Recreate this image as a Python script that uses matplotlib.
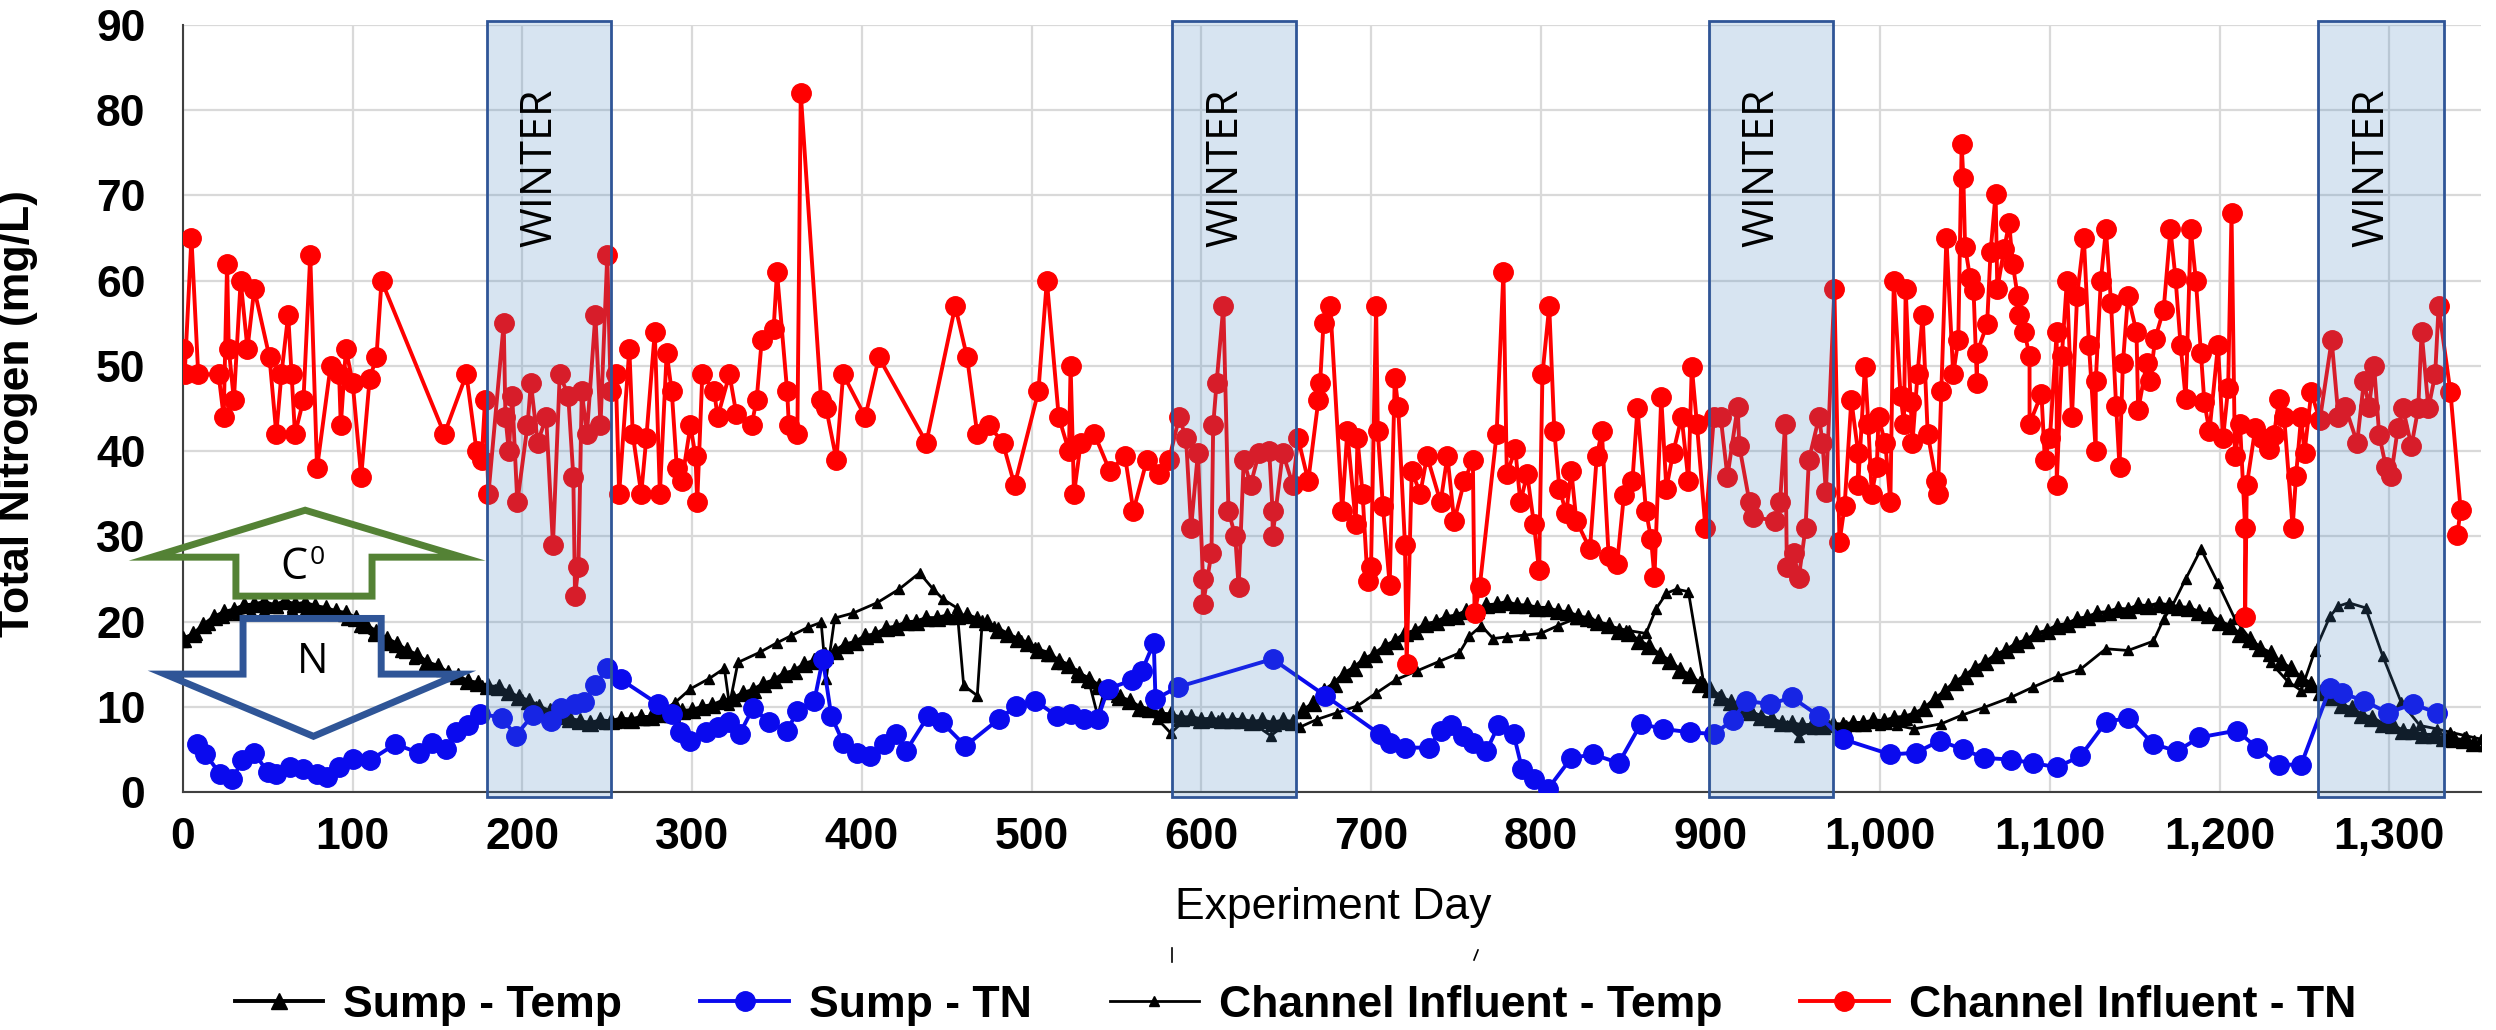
import matplotlib
matplotlib.use("Agg")
import matplotlib.pyplot as plt
from matplotlib.patches import Rectangle, Polygon
from matplotlib.lines import Line2D
from matplotlib.ticker import FuncFormatter, MultipleLocator

# ---- data ----
sump_temp_day = [0, 6, 12, 18, 24, 30, 36, 42, 48, 54, 60, 66, 72, 78, 84, 90, 96, 102, 108, 114,
                 120, 126, 132, 138, 144, 150, 156, 162, 168, 174, 180, 186, 192, 198, 204, 210, 216,
                 222, 228, 234, 240, 246, 252, 258, 264, 270, 276, 282, 288, 294, 300, 306, 312, 318,
                 324, 330, 336, 342, 348, 354, 360, 366, 372, 378, 384, 390, 396, 402, 408, 414, 420,
                 426, 432, 438, 444, 450, 456, 462, 468, 474, 480, 486, 492, 498, 504, 510, 516, 522,
                 528, 534, 540, 546, 552, 558, 564, 570, 576, 582, 588, 594, 600, 606, 612, 618, 624,
                 630, 636, 642, 648, 654, 660, 666, 672, 678, 684, 690, 696, 702, 708, 714, 720, 726,
                 732, 738, 744, 750, 756, 762, 768, 774, 780, 786, 792, 798, 804, 810, 816, 822, 828,
                 834, 840, 846, 852, 858, 864, 870, 876, 882, 888, 894, 900, 906, 912, 918, 924, 930,
                 936, 942, 948, 954, 960, 966, 972, 978, 984, 990, 996, 1002, 1008, 1014, 1020, 1026,
                 1032, 1038, 1044, 1050, 1056, 1062, 1068, 1074, 1080, 1086, 1092, 1098, 1104, 1110,
                 1116, 1122, 1128, 1134, 1140, 1146, 1152, 1158, 1164, 1170, 1176, 1182, 1188, 1194,
                 1200, 1206, 1212, 1218, 1224, 1230, 1236, 1242, 1248, 1254, 1260, 1266, 1272, 1278,
                 1284, 1290, 1296, 1302, 1308, 1314, 1320, 1326, 1332, 1338, 1344, 1350, 1357]
sump_temp = [18, 18.5, 19.6, 20.5, 21.1, 21.4, 21.9, 22, 22.3, 21.9, 22.4, 22, 22.2, 21.8, 21.6,
             21.2, 21, 20.4, 19.6, 18.8, 18, 17.4, 16.6, 16.1, 15.2, 14.8, 14, 13.6, 13, 12.8,
             12.4, 12.3, 11.7, 11.1, 10.7, 10, 9.5, 9, 8.6, 8.3, 8.1, 8.4, 8.3, 8.6, 8.5, 8.8,
             8.8, 9.1, 9.1, 9.5, 9.6, 10, 10.2, 10.7, 11, 11.6, 12, 12.7, 13.1, 13.9, 14.2, 15,
             15.4, 16.1, 16.5, 17.3, 17.6, 18.3, 18.5, 19.2, 19.4, 19.9, 20, 20.4, 20.4, 20.7,
             20.6, 20.8, 20.3, 19.9, 19, 18.5, 17.9, 17.5, 16.7, 16.3, 15.4, 14.9, 13.9, 13.3,
             12.4, 11.9, 11.1, 10.7, 9.9, 9.7, 9.2, 9.1, 8.7, 8.8, 8.5, 8.6, 8.4, 8.4, 8.5, 8.2,
             8.4, 8.1, 8.4, 8.2, 9.6, 10.4, 11.9, 12.7, 13.9, 14.6, 15.6, 16.2, 17.1, 17.7,
             18.6, 18.9, 19.7, 19.9, 20.5, 20.7, 21.2, 21.4, 21.9, 22, 22.3, 21.9, 21.9, 21.6,
             21.6, 21.2, 21.1, 20.6, 20.4, 19.9, 19.6, 18.9, 18.6, 17.7, 17.1, 16.1, 15.4, 14.3,
             13.7, 12.7, 12.1, 11.1, 10.6, 9.7, 9.4, 8.8, 8.6, 8.1, 8.1, 7.8, 7.9, 7.7, 8, 7.9,
             8.1, 8.1, 8.4, 8.3, 8.7, 8.8, 9.2, 9.8, 10.9, 11.8, 12.9, 13.6, 14.6, 15.2, 16.1,
             16.6, 17.4, 17.8, 18.6, 18.9, 19.5, 19.7, 20.3, 20.5, 21, 21.1, 21.5, 21.4, 21.9,
             21.8, 22.1, 21.9, 21.7, 21.6, 21.1, 20.8, 20, 19.5, 18.5, 17.9, 16.9, 16.3, 15.2,
             14.5, 13.4, 12.7, 11.7, 11.1, 10.2, 9.8, 9, 8.7, 8, 7.8, 7.2, 7.1, 6.7, 6.7, 6.3,
             6.2, 6.1, 5.8, 5.7]

chan_temp_day = [0, 8, 16, 24, 32, 40, 48, 56, 64, 72, 80, 88, 96, 104, 112, 120, 128, 136, 144, 152,
                 160, 168, 176, 184, 192, 200, 208, 216, 224, 232, 240, 248, 256, 264, 272, 280, 290,
                 299, 310, 319, 322, 327, 340, 350, 358, 368, 376, 379, 384, 395, 409, 422, 434, 442,
                 448, 456, 460, 468, 471, 478, 486, 494, 502, 510, 518, 526, 534, 539, 543, 550, 558,
                 566, 574, 582, 590, 600, 610, 620, 630, 641, 650, 658, 668, 680, 692, 703, 715, 727,
                 740, 752, 758, 765, 772, 780, 790, 800, 810, 820, 830, 840, 850, 862, 868, 874, 880,
                 887, 896, 905, 915, 925, 935, 945, 952, 960, 970, 980, 990, 1000, 1010, 1020, 1036,
                 1048, 1061, 1077, 1090, 1105, 1118, 1133, 1146, 1161, 1167, 1172, 1180, 1189, 1199,
                 1209, 1220, 1230, 1240, 1248, 1256, 1265, 1270, 1276, 1286, 1296, 1307, 1318, 1328,
                 1336, 1345, 1354]
chan_temp = [17.6, 18.4, 19.6, 20.4, 20.8, 21.2, 21.4, 21.6, 21.5, 21.4, 21.2, 20.8, 20.2, 19.4,
             18.3, 17.2, 16.4, 15.6, 14.9, 14.2, 13.6, 13, 12.5, 12.1, 11.6, 10.9, 10.1, 9.3, 8.6,
             8.1, 7.9, 8, 8.1, 8.2, 8.5, 9.2, 10.5, 12.1, 13.3, 14.5, 10.2, 15.2, 16.4, 17.5, 18.3,
             19.3, 19.9, 13.3, 20.4, 21, 22.2, 23.8, 25.7, 23.8, 22.6, 21.6, 12.5, 11.3, 20.2, 19.5,
             18.6, 17.8, 17, 16, 15, 14, 12.8, 8.9, 12, 11.2, 10.4, 9.5, 8.6, 6.9, 8.4, 8.6, 8.4,
             8.2, 8.1, 6.6, 8, 7.6, 8.5, 9.3, 10.1, 11.6, 13.2, 14.2, 15.3, 16.3, 18.3, 19.5, 18,
             18.2, 18.4, 18.6, 19.5, 20.3, 20, 19.5, 19, 18.6, 21.5, 23.3, 23.8, 23.5, 12.8, 11.3,
             10.2, 9.3, 8.6, 7.8, 6.5, 7.4, 7.8, 7.9, 7.8, 7.9, 7.8, 7.4, 8, 9, 9.9, 11.1, 12.3,
             13.6, 14.4, 16.8, 16.6, 17.7, 20.3, 21.8, 25, 28.5, 24.5, 20.3, 17.4, 15.2, 13, 11.9,
             16.5, 20.6, 21.8, 22.2, 21.6, 16, 10.5, 7.8, 7.4, 7, 6.6, 6.2]

sump_tn_day = [8, 13, 22, 29, 35, 42, 50, 55, 63, 71, 79, 85, 92, 100, 110, 125, 139, 147, 155, 161,
               168, 175, 188, 196, 206, 217, 223, 231, 236, 243, 250, 258, 280, 288, 293, 299, 308,
               315, 322, 328, 336, 345, 356, 362, 372, 377, 382, 389, 397, 405, 413, 420, 426, 439,
               447, 461, 481, 491, 502, 515, 523, 531, 539, 545, 559, 565, 572, 573, 586, 642, 673,
               705, 711, 720, 734, 741, 747, 754, 760, 768, 775, 784, 789, 796, 804, 818, 831, 846,
               859, 872, 888, 902, 913, 921, 935, 948, 964, 978, 1006, 1021, 1035, 1049, 1061, 1077,
               1090, 1104, 1118, 1133, 1146, 1161, 1175, 1188, 1210, 1222, 1235, 1248, 1265, 1272,
               1285, 1299, 1314, 1328]
sump_tn = [5.6, 4.5, 2.1, 1.5, 3.7, 4.6, 2.3, 2.1, 2.9, 2.7, 2.1, 1.7, 2.9, 3.9, 3.7, 5.6, 4.6, 5.8,
           5, 7, 7.8, 9.2, 8.7, 6.6, 9, 8.3, 9.9, 10.3, 10.5, 12.5, 14.6, 13.2, 10.3, 9.1, 7, 6, 7,
           7.6, 8.2, 6.8, 9.9, 8.2, 7.2, 9.5, 10.7, 15.6, 8.9, 5.8, 4.6, 4.2, 5.6, 6.8, 4.8, 8.9,
           8.2, 5.4, 8.6, 10.1, 10.7, 8.9, 9.2, 8.6, 8.6, 12.1, 13.1, 14.2, 17.5, 10.9, 12.3, 15.6,
           11.3, 6.8, 5.8, 5.2, 5.2, 7.2, 7.8, 6.6, 5.8, 4.8, 7.8, 6.8, 2.7, 1.5, 0.3, 4, 4.4, 3.4,
           8, 7.4, 7, 6.8, 8.4, 10.7, 10.3, 11.1, 8.9, 6.2, 4.4, 4.6, 6, 5, 4, 3.8, 3.4, 2.9, 4.2,
           8.2, 8.7, 5.6, 4.8, 6.4, 7.2, 5.2, 3.2, 3.2, 12.2, 11.6, 10.7, 9.3, 10.3, 9.3]

chan_tn_day = [0, 1, 5, 9, 21, 24, 26, 27, 30, 34, 38, 42, 51, 55, 58, 62, 64, 66, 71, 75, 79, 87, 92,
               93, 96, 100, 105, 110, 114, 117, 154, 167, 173, 176, 178, 180, 189, 190, 192, 194, 197,
               203, 205, 209, 214, 218, 222, 227, 230, 231, 233, 235, 238, 243, 246, 250, 252, 255,
               257, 263, 265, 270, 273, 278, 281, 285, 288, 291, 294, 299, 302, 303, 306, 313, 315,
               322, 326, 335, 338, 341, 348, 350, 356, 357, 362, 364, 376, 379, 385, 389, 402, 410,
               438, 455, 462, 468, 475, 483, 490, 504, 509, 516, 522, 523, 525, 529, 537, 546, 555,
               560, 568, 575, 581, 587, 591, 594, 598, 601, 601, 606, 607, 609, 613, 616, 620, 622,
               625, 629, 634, 640, 642, 642, 648, 654, 657, 663, 669, 670, 672, 676, 683, 686, 691,
               692, 695, 698, 700, 703, 704, 707, 711, 714, 716, 720, 721, 724, 729, 733, 741, 745,
               749, 755, 760, 761, 764, 774, 778, 780, 785, 788, 792, 796, 799, 801, 805, 808, 811,
               815, 818, 821, 829, 833, 836, 840, 845, 849, 854, 857, 862, 865, 867, 871, 874, 878,
               883, 887, 889, 892, 897, 902, 906, 910, 916, 917, 923, 925, 938, 941, 944, 945, 949,
               952, 956, 958, 964, 966, 968, 973, 976, 979, 983, 987, 987, 991, 993, 995, 998, 999,
               1003, 1006, 1008, 1012, 1014, 1015, 1018, 1019, 1022, 1025, 1028, 1033, 1034, 1036,
               1039, 1043, 1046, 1048, 1049, 1050, 1053, 1055, 1057, 1057, 1063, 1065, 1068, 1069,
               1073, 1076, 1078, 1081, 1082, 1085, 1088, 1088, 1095, 1097, 1100, 1104, 1104, 1107,
               1110, 1113, 1116, 1120, 1123, 1127, 1127, 1130, 1133, 1136, 1139, 1141, 1143, 1146,
               1151, 1152, 1157, 1159, 1162, 1167, 1171, 1174, 1177, 1180, 1183, 1186, 1189, 1191,
               1194, 1199, 1202, 1205, 1207, 1209, 1212, 1215, 1215, 1216, 1221, 1225, 1229, 1232,
               1235, 1238, 1243, 1245, 1248, 1250, 1254, 1259, 1266, 1270, 1274, 1281, 1285, 1288,
               1291, 1294, 1298, 1301, 1305, 1308, 1313, 1317, 1319, 1323, 1327, 1329, 1336, 1342,
               1340]
chan_tn = [52, 49, 65, 49, 49, 44, 62, 52, 46, 60, 52, 59, 51, 42, 49, 56, 49, 42, 46, 63, 38, 50, 49,
           43, 52, 48, 37, 48.5, 51, 60, 42, 49, 40, 39, 46, 35, 55, 44, 40, 46.5, 34, 43, 48, 41, 44,
           29, 49, 46.5, 37, 23, 26.4, 47, 42, 56, 43, 63, 47, 49, 35, 52, 42, 35, 41.5, 54, 35, 51.5,
           47, 38, 36.5, 43, 39.4, 34, 49, 47, 44, 49, 44.4, 43, 46, 53, 54.3, 61, 47, 43, 42, 82, 46,
           45, 39, 49, 44, 51, 41, 57, 51, 42, 43, 41, 36, 47, 60, 44, 40, 50, 35, 41, 42, 37.7, 39.4,
           33, 39, 37.3, 39, 44, 41.5, 31, 39.8, 25, 22, 28, 43, 48, 57, 33, 30, 24, 39, 36, 39.8, 40,
           33, 30, 39.8, 36, 41.5, 36.5, 46, 48, 55, 57, 33, 42.3, 31.5, 41.5, 35, 24.7, 26.4, 57,
           42.3, 33.5, 24.3, 48.6, 45.2, 29, 15, 37.7, 35, 39.4, 34, 39.4, 31.8, 36.5, 39, 21, 24, 42,
           61, 37.3, 40.2, 34, 37.3, 31.4, 26, 49, 57, 42.3, 35.6, 32.7, 37.7, 31.8, 28.5, 39.4, 42.3,
           27.7, 26.8, 34.8, 36.5, 45, 33, 29.7, 25.2, 46.3, 35.6, 39.8, 44, 36.5, 49.9, 43.2, 31, 44,
           44, 37, 45.2, 40.6, 34, 32.3, 31.8, 34, 43.2, 26.4, 28, 25.1, 31, 39, 44, 41, 35.2, 59,
           29.3, 33.5, 46, 39.8, 36, 49.9, 43.2, 35, 38.1, 44, 40.9, 34, 60, 46.5, 43.2, 59, 45.7, 41,
           49, 56, 42, 36.5, 35, 47, 65, 49, 53, 76, 72, 64, 60.3, 58.9, 48, 51.5, 54.9, 63.3, 70.2,
           59, 63.7, 66.8, 62, 58.2, 56, 54, 51.1, 43.2, 46.7, 39, 41.5, 54, 36, 51.1, 60, 44, 58.2,
           65, 52.4, 40, 48.2, 60, 66, 57.4, 45.3, 38.1, 50.3, 58.2, 54, 44.8, 50.3, 48.2, 53.2, 56.6,
           66, 60.3, 52.4, 46.1, 66, 60, 51.5, 45.7, 42.3, 52.4, 41.5, 47.4, 67.9, 39.4, 43.2, 31,
           20.5, 36, 42.7, 41.5, 40.2, 41.9, 46.1, 44, 31, 37.1, 44, 39.8, 46.9, 43.6, 53, 44, 45.2,
           41, 48.2, 45.2, 50, 41.9, 38.1, 37.1, 42.7, 45, 40.6, 45, 54, 45, 49, 57, 46.9, 33.1, 30.2]

winter_start = [179, 583, 899, 1258]
winter_end = [252, 656, 972, 1332]

plt.rcParams['font.family'] = ['Liberation Sans', 'DejaVu Sans']

fig = plt.figure(figsize=(24.96, 10.30), dpi=100)
ax = fig.add_axes([0.0733, 0.2311, 0.9207, 0.7447])

# series
l1, = ax.plot(sump_temp_day, sump_temp, color='black', lw=2.8, marker='^', ms=11, zorder=3)
l3, = ax.plot(chan_temp_day, chan_temp, color='black', lw=2, marker='^', ms=7, zorder=3)
l2, = ax.plot(sump_tn_day, sump_tn, color='#0a0aee', lw=2.8, marker='o', ms=14, zorder=3.2)
l4, = ax.plot(chan_tn_day, chan_tn, color='#ff0000', lw=2.8, marker='o', ms=14, zorder=3.4)

# winter boxes
for s, e in zip(winter_start, winter_end):
    ax.add_patch(Rectangle((s, -0.6), e - s, 91.1, facecolor='#4988c3', alpha=0.22,
                           edgecolor='none', zorder=4, clip_on=False))
    ax.add_patch(Rectangle((s, -0.6), e - s, 91.1, fill=False, edgecolor='#2f5597',
                           lw=2, zorder=4.5, clip_on=False))
    ax.text((s + e) / 2 - 5, 73.3, 'WINTER', rotation=90, ha='center', va='center',
            fontsize=31, family='Open Sans', zorder=5)

# C0 / N block arrows
up = [(72, 33.06), (164.4, 27.55), (111.4, 27.55), (111.4, 22.98), (31.2, 22.98),
      (31.2, 27.55), (-18.3, 27.55)]
down = [(35.4, 20.36), (116.8, 20.36), (116.8, 13.83), (162.8, 13.83), (76.9, 6.53),
        (-10.6, 13.83), (35.4, 13.83)]
ax.add_patch(Polygon(up, closed=True, fill=False, edgecolor='#548235', lw=5,
                     joinstyle='miter', zorder=6, clip_on=False))
ax.add_patch(Polygon(down, closed=True, fill=False, edgecolor='#2f5597', lw=5,
                     joinstyle='miter', zorder=6, clip_on=False))
ax.text(65.5, 26.3, 'C', ha='center', va='center', fontsize=31, family='Open Sans', zorder=7)
ax.text(79.3, 27.5, '0', ha='center', va='center', fontsize=19, family='Open Sans', zorder=7)
ax.text(76.5, 15.2, 'N', ha='center', va='center', fontsize=30, family='Open Sans', zorder=7)

# axes styling
ax.set_xlim(0, 1354)
ax.set_ylim(0, 90)
ax.xaxis.set_major_locator(MultipleLocator(100))
ax.yaxis.set_major_locator(MultipleLocator(10))
ax.xaxis.set_major_formatter(FuncFormatter(lambda v, p: f'{int(v):,}'))
ax.grid(True, color='#d9d9d9', lw=1.6)
ax.set_axisbelow(True)
for side in ['top', 'right']:
    ax.spines[side].set_visible(False)
ax.spines['left'].set_color('#404040')
ax.spines['bottom'].set_color('#404040')
ax.spines['left'].set_linewidth(1.5)
ax.spines['bottom'].set_linewidth(1.5)
ax.tick_params(axis='both', length=0, labelsize=32)
ax.tick_params(axis='y', pad=27)
ax.tick_params(axis='x', pad=18)
for lab in ax.get_xticklabels() + ax.get_yticklabels():
    lab.set_fontweight('bold')

ax.set_ylabel('Total Nitrogen (mg/L)', fontsize=32, fontweight='bold')
ax.yaxis.set_label_coords(-0.063, 0.493)
fig.text(0.534, 0.119, 'Experiment Day', ha='center', va='center', fontsize=32)

# small cut-off marks under the axis title
fig.add_artist(Line2D([1172 / 2496, 1172 / 2496], [1 - 948 / 1030, 1 - 962 / 1030],
                      color='black', lw=1.2))
fig.add_artist(Line2D([1474 / 2496, 1478 / 2496], [1 - 960 / 1030, 1 - 950 / 1030],
                      color='black', lw=1.2))

fig.legend([l1, l2, l3, l4],
           ['Sump - Temp', 'Sump - TN', 'Channel Influent - Temp', 'Channel Influent - TN'],
           loc='center', bbox_to_anchor=(0.519, 0.024), ncol=4, frameon=False,
           prop={'size': 32, 'weight': 'bold'}, handlelength=2.0, handletextpad=0.45,
           columnspacing=1.75, numpoints=1)

fig.savefig('out.png', dpi=100)
